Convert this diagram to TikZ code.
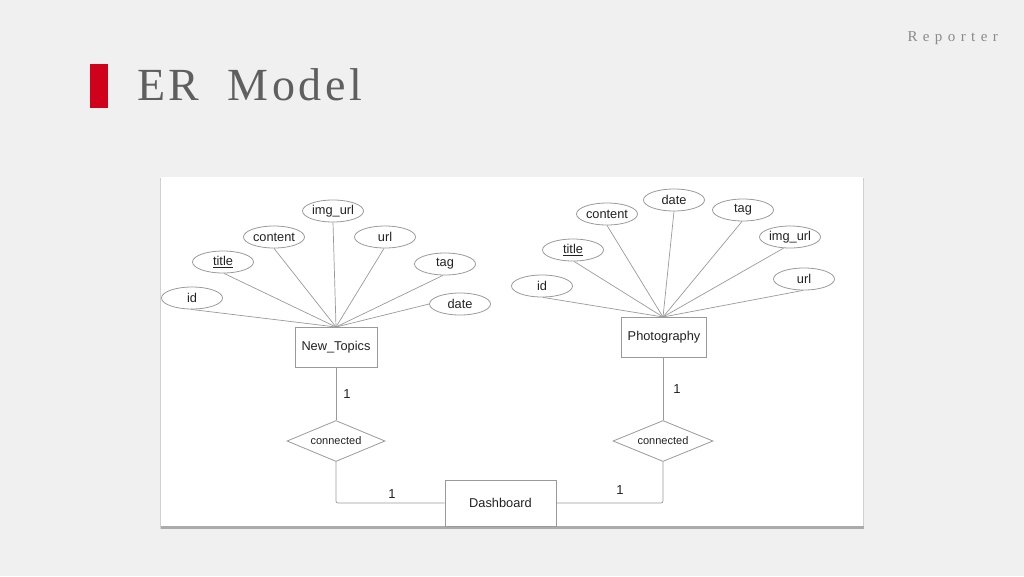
\documentclass[tikz,border=0pt]{standalone}
\usepackage{fontspec}
\setmainfont{Liberation Sans}
\newfontfamily\titlefont[LetterSpace=8]{Liberation Serif}
\newfontfamily\repfont[LetterSpace=36]{Liberation Serif}
\usetikzlibrary{shapes.geometric}
\definecolor{bgcol}{HTML}{F0F0F0}
\definecolor{linecol}{HTML}{9A9A9A}
\definecolor{txtcol}{HTML}{222222}
\definecolor{titlecol}{HTML}{5F5F5F}
\definecolor{repcol}{HTML}{8A8A8A}
\definecolor{barred}{HTML}{D0021B}
\definecolor{shadowcol}{HTML}{ABABAB}
\tikzset{
  attr/.style={ellipse, draw=linecol, line width=0.8pt, fill=white, minimum width=61pt, minimum height=22pt, inner sep=0pt, text=txtcol, font=\fontsize{12.8}{14}\selectfont},
  entity/.style={rectangle, draw=linecol, line width=0.8pt, fill=white, inner sep=0pt, text=txtcol, font=\fontsize{12.8}{14}\selectfont},
  rel/.style={diamond, aspect=2.4, draw=linecol, line width=0.8pt, fill=white, inner sep=0pt, text=txtcol, font=\fontsize{11}{12}\selectfont},
  conn/.style={draw=linecol, line width=0.7pt},
  card/.style={text=txtcol, font=\fontsize{13}{14}\selectfont, inner sep=0pt}
}
\begin{document}
\begin{tikzpicture}[x=1pt,y=-1pt]
\useasboundingbox (0,0) rectangle (1024,576);
\fill[bgcol] (0,0) rectangle (1024,576);
% title and header
\fill[barred] (90,64) rectangle (108,108);
\node[anchor=base west, inner sep=0pt, text=titlecol, font=\titlefont\fontsize{46}{50}\selectfont] (title) at (137,100) {ER\hspace{28pt}Model};
\node[anchor=base east, inner sep=0pt, text=repcol, font=\repfont\fontsize{15}{16}\selectfont] (reporter) at (998,41) {Reporter};
% panel with shadow
\fill[shadowcol!55] (159.5,177.5) rectangle (864,529);
\fill[shadowcol] (161,526) rectangle (863.5,528.5);
\fill[white] (161,177) rectangle (862.5,526);
% left entity
\node[entity, minimum width=82pt, minimum height=40pt] (nt) at (336,347) {New\_Topics};
\coordinate (ntc) at (336,327);
\node[attr] (nid) at (192,298) {id};
\node[attr] (ntitle) at (223,262) {\underline{title}};
\node[attr] (ncontent) at (274,237) {content};
\node[attr] (nimg) at (333,211) {img\_url};
\node[attr] (nurl) at (385,237) {url};
\node[attr] (ntag) at (445,264) {tag};
\node[attr] (ndate) at (460,304) {date};
\foreach \a/\p in {nid/-95, ntitle/-85, ncontent/-90, nimg/-90, nurl/-95, ntag/-100, ndate/180}
  \draw[conn] (\a.\p) -- (ntc);
% right entity
\node[entity, minimum width=85pt, minimum height=40pt] (ph) at (664,337) {Photography};
\coordinate (phc) at (663,317);
\node[attr] (pid) at (542,286) {id};
\node[attr] (ptitle) at (573,250) {\underline{title}};
\node[attr] (pcontent) at (607,214) {content};
\node[attr] (pdate) at (674,200) {date};
\node[attr] (ptag) at (743,210) {tag};
\node[attr] (pimg) at (790,237) {img\_url};
\node[attr] (purl) at (804,279) {url};
\foreach \a/\p in {pid/-85, ptitle/-85, pcontent/-90, pdate/-90, ptag/-95, pimg/-120, purl/-95}
  \draw[conn] (\a.\p) -- (phc);
% relationships
\node[rel, minimum width=98pt, minimum height=41pt] (rl) at (336,441) {connected};
\node[rel, minimum width=100pt, minimum height=41pt] (rr) at (663,441) {connected};
\node[entity, minimum width=111pt, minimum height=46pt] (db) at (500.5,503) {Dashboard};
\draw[conn] (nt.south) -- (rl.north);
\draw[conn] (ph.south -| rr.north) -- (rr.north);
\draw[conn, rounded corners=2pt] (rl.south) |- (db.west);
\draw[conn, rounded corners=2pt] (db.east) -| (rr.south);
\node[card] (c1) at (347,394) {1};
\node[card] (c2) at (392,494) {1};
\node[card] (c3) at (620,490) {1};
\node[card] (c4) at (677,389) {1};
\end{tikzpicture}
\end{document}
